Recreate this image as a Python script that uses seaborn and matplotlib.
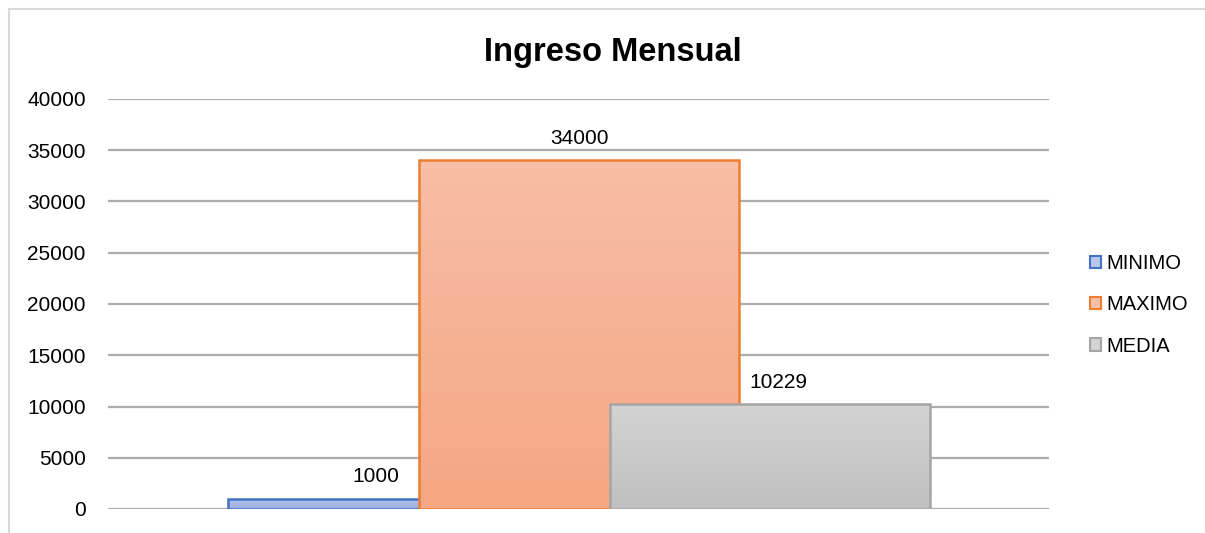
import numpy as np
import pandas as pd
import matplotlib
matplotlib.use("Agg")
import matplotlib.pyplot as plt
import seaborn as sns
from matplotlib.patches import Rectangle

categories = ["MINIMO", "MAXIMO", "MEDIA"]
values = [1000, 34000, 10229]
title = "Ingreso Mensual"
yticks = [0, 5000, 10000, 15000, 20000, 25000, 30000, 35000, 40000]

edge_colors = ["#4472C4", "#ED7D31", "#A5A5A5"]
grad_top = [(0.72, 0.78, 0.92), (0.969, 0.745, 0.651), (0.827, 0.827, 0.827)]
grad_bot = [(0.60, 0.68, 0.88), (0.961, 0.651, 0.510), (0.753, 0.753, 0.753)]

sns.set_theme(style="white")
plt.rcParams["font.family"] = ["Liberation Sans", "DejaVu Sans"]
plt.rcParams["text.color"] = "#000000"
plt.rcParams["axes.labelcolor"] = "#000000"
plt.rcParams["ytick.color"] = "#000000"

W, H = 1205, 533
fig = plt.figure(figsize=(W / 100, H / 100), dpi=100)
ax = fig.add_axes([108 / W, (H - 509) / H, (1049 - 108) / W, (509 - 99) / H])

df = pd.DataFrame({"cat": categories, "val": values})
sns.barplot(data=df, x="cat", y="val", hue="cat", order=categories,
            hue_order=categories, palette=edge_colors, width=1.675,
            dodge=False, legend=False, ax=ax)

ax.set_ylim(0, 40000)
ax.set_xlim(-1.466, 3.46)
ax.set_yticks(yticks)
ax.set_yticklabels([str(t) for t in yticks], fontsize=15, color="#000000")
ax.set_xticks([])
ax.set_xlabel("")
ax.set_ylabel("")
ax.tick_params(axis="y", length=0, pad=16)
for s in ax.spines.values():
    s.set_visible(False)
ax.yaxis.grid(True, color="#ADADAD", linewidth=1.6)
ax.set_axisbelow(True)

label_shift = [-12, 0, 8]
patches = list(ax.patches)
for i, p in enumerate(patches):
    x0, y0 = p.get_x(), p.get_y()
    w, h = p.get_width(), p.get_height()
    p.set_facecolor("none")
    p.set_edgecolor(edge_colors[i])
    p.set_linewidth(1.8)
    p.set_zorder(3 + 2 * i + 1)
    top = np.array(grad_top[i]); bot = np.array(grad_bot[i])
    t = np.linspace(0, 1, 256)[:, None]
    img = (top[None, :] * (1 - t) + bot[None, :] * t)[:, None, :]
    im = ax.imshow(img, extent=[x0, x0 + w, y0, y0 + h], aspect="auto",
                   origin="upper", zorder=3 + 2 * i, interpolation="bilinear")
    im.set_clip_path(p)
    ax.annotate(f"{values[i]}", (x0 + w / 2, y0 + h), xytext=(label_shift[i], 22),
                textcoords="offset pixels", ha="center", va="center",
                fontsize=15, color="#000000", zorder=20)

ax.set_xlim(-1.466, 3.46)
ax.set_ylim(0, 40000)

handles = [Rectangle((0, 0), 1, 1, facecolor=grad_top[i], edgecolor=edge_colors[i],
                     linewidth=1.5) for i in range(3)]
leg = fig.legend(handles, categories, loc="center left",
                 bbox_to_anchor=(1082 / W, (H - 305) / H), frameon=False,
                 fontsize=14.5, handlelength=0.55, handleheight=0.55,
                 handletextpad=0.25, labelspacing=1.1, borderaxespad=0,
                 labelcolor="#000000")

fig.text(613 / W, (H - 52) / H, title, ha="center", va="center",
         fontsize=23.5, fontweight="bold", color="#000000")

fig.patches.append(Rectangle((9 / W, -0.1), 1.2, (H - 9) / H + 0.1,
                             transform=fig.transFigure, fill=False,
                             edgecolor="#D9D9D9", linewidth=1.5, zorder=0))

fig.savefig("out.png", dpi=100)
